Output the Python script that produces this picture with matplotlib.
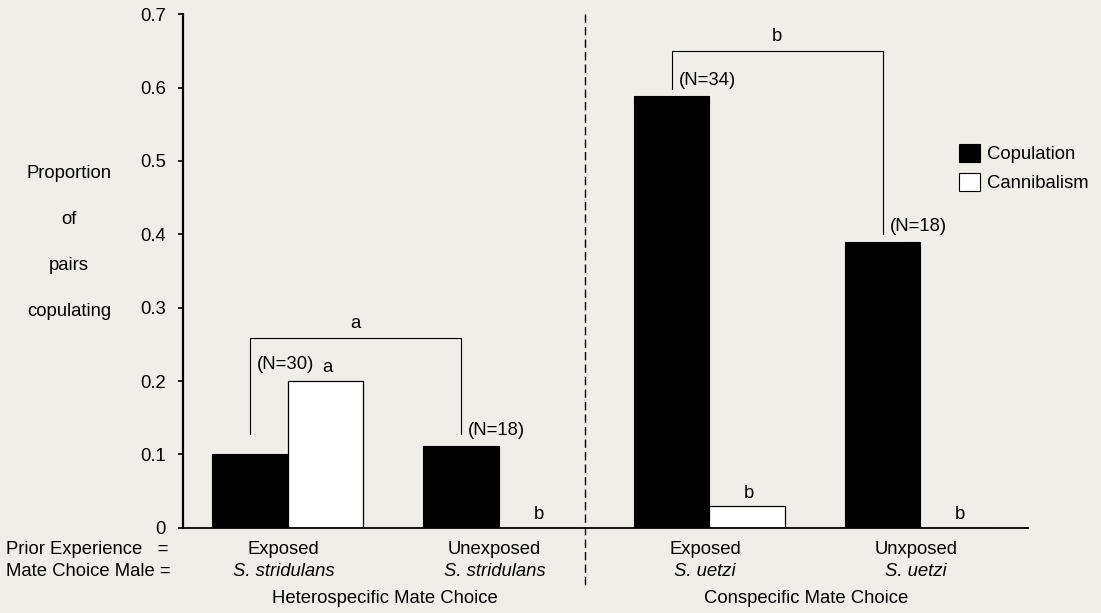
import numpy as np
import matplotlib
matplotlib.use('Agg')
import matplotlib.pyplot as plt
from matplotlib.patches import Patch

plt.rcParams['font.family'] = ['Liberation Sans', 'DejaVu Sans']
plt.rcParams['font.size'] = 13.3

# data
prior = ["Exposed", "Unexposed", "Exposed", "Unxposed"]
male = ["S. stridulans", "S. stridulans", "S. uetzi", "S. uetzi"]
copulation = [0.10, 0.111, 0.588, 0.389]
cannibalism = [0.20, 0.0, 0.029, 0.0]
n_labels = ["(N=30)", "(N=18)", "(N=34)", "(N=18)"]
cannib_letters = ["a", "b", "b", "b"]
groups = ["Heterospecific Mate Choice", "Conspecific Mate Choice"]
group_members = [(0, 1), (2, 3)]
bracket_letters = ["a", "b"]
bracket_top = [0.259, 0.650]
bracket_legs = [(0.128, 0.128), (0.598, 0.40)]
yticks = [0, 0.1, 0.2, 0.3, 0.4, 0.5, 0.6, 0.7]
ylab_lines = ["Proportion", "of", "pairs", "copulating"]

bg = '#efeee9'
fig = plt.figure(figsize=(11.01, 6.13), dpi=100, facecolor=bg)
ax = fig.add_axes([183/1101, 1-527.7/613, (1028-183)/1101, (527.7-14.3)/613])
ax.set_facecolor(bg)

x = np.arange(len(prior))
w = 0.358
ax.bar(x - w/2, copulation, w, color='black', edgecolor='black', lw=0.8,
       label='Copulation')
ax.bar(x + w/2, cannibalism, w, color='white', edgecolor='black', lw=0.9,
       label='Cannibalism')

ax.set_xlim(-0.496, 3.51)
ax.set_ylim(0, 0.7)
ax.set_yticks(yticks)
ax.set_yticklabels(['0' if v == 0 else '%.1f' % v for v in yticks])
ax.set_xticks([])
for s in ['top', 'right']:
    ax.spines[s].set_visible(False)
ax.spines['left'].set_linewidth(1.6)
ax.spines['bottom'].set_linewidth(1.3)
ax.tick_params(axis='y', direction='out', length=3.8, width=1.2, pad=8.4)

# N labels and cannibalism letters
for i in range(len(prior)):
    top = max(copulation[i], cannibalism[i])
    ax.text(x[i] - 0.01, top + 0.022, n_labels[i], ha='center', va='center')
    ax.text(x[i] + w/2 + 0.01, cannibalism[i] + 0.018, cannib_letters[i],
            ha='center', va='center')

# brackets between copulation bars
for k, (a, b) in enumerate(group_members):
    xa = x[a] - w/2
    xb = x[b] - w/2
    la, lb = bracket_legs[k]
    ax.plot([xa, xa, xb, xb], [la, bracket_top[k], bracket_top[k], lb],
            color='black', lw=0.8)
    ax.text((xa + xb)/2, bracket_top[k] + 0.02, bracket_letters[k],
            ha='center', va='center')

# divider
ax.plot([1.41, 1.41], [0.7, -0.0795], color='black', lw=1.0,
        linestyle=(0, (6, 3)), clip_on=False)

# category labels
tr = ax.get_xaxis_transform()
for i in range(len(prior)):
    ax.text(x[i] - 0.02, -0.0415, prior[i], transform=tr, ha='center',
            va='center')
    ax.text(x[i] - 0.02, -0.0845, male[i], transform=tr, ha='center',
            va='center', style='italic')
for k, (a, b) in enumerate(group_members):
    ax.text((x[a] + x[b])/2 - 0.04, -0.137, groups[k], transform=tr,
            ha='center', va='center')

fig.text(6/1101, 1-550/613, "Prior Experience   =", ha='left', va='center')
fig.text(6/1101, 1-571.5/613, "Mate Choice Male =", ha='left', va='center')

# y label stacked
for j, t in enumerate(ylab_lines):
    fig.text(69/1101, 1-(174 + 45.9*j)/613, t, ha='center', va='center')

handles = [Patch(facecolor='black', edgecolor='black', lw=0.8),
           Patch(facecolor='white', edgecolor='black', lw=0.8)]
fig.legend(handles, ['Copulation', 'Cannibalism'], loc='upper left',
           bbox_to_anchor=(959/1101, 1-144/613), frameon=False,
           borderpad=0, borderaxespad=0, handlelength=1.14, handleheight=1.14,
           handletextpad=0.4, labelspacing=0.5)

fig.savefig('out.png', dpi=100, facecolor=bg)
